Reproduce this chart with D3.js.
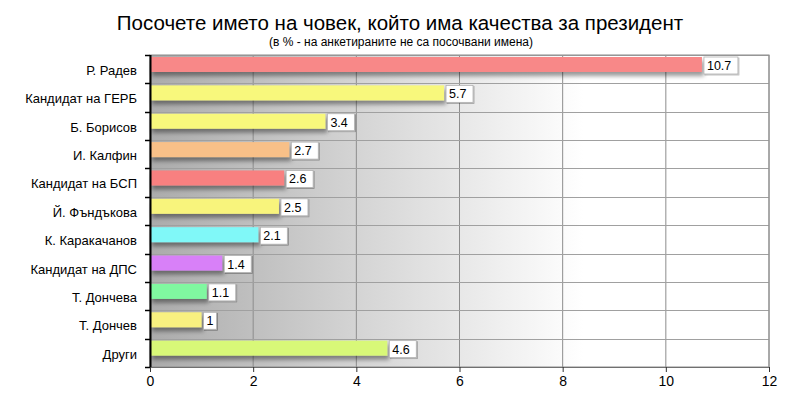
<!DOCTYPE html>
<html>
<head>
<meta charset="utf-8">
<script src="https://cdn.jsdelivr.net/npm/d3@7.9.0/dist/d3.min.js"></script>
<style>
  html, body { margin: 0; padding: 0; background: #fff; }
  svg { display: block; font-family: "Liberation Sans", Arial, sans-serif; }
</style>
</head>
<body>
<svg id="chart" width="800" height="400"></svg>
<script>
// values (percent)
var categories = ['Р. Радев', 'Кандидат на ГЕРБ', 'Б. Борисов', 'И. Калфин', 'Кандидат на БСП',
    'Й. Фъндъкова', 'К. Каракачанов', 'Кандидат на ДПС', 'Т. Дончева', 'Т. Дончев', 'Други']
var values = [10.7, 5.7, 3.4, 2.7, 2.6, 2.5, 2.1, 1.4, 1.1, 1, 4.6]
var xTicks = [0, 2, 4, 6, 8, 10, 12]

var BAR_COLORS = ['#f88888', '#f8f87c', '#f8f87c', '#f8c088', '#f88080', '#f8f47c',
    '#80f8f8', '#d880f8', '#80f8a0', '#f8f080', '#d8f878']

var W = 800, H = 400
var margin = { top: 55, right: 31, bottom: 33, left: 150 }
var iw = W - margin.left - margin.right
var ih = H - margin.top - margin.bottom

var svg = d3.select('#chart')
var defs = svg.append('defs')

var grad = defs.append('linearGradient').attr('id', 'bg').attr('x1', 0).attr('x2', 1).attr('y1', 0).attr('y2', 0)
grad.append('stop').attr('offset', '0%').attr('stop-color', '#ababab')
grad.append('stop').attr('offset', '35%').attr('stop-color', '#d6d6d6')
grad.append('stop').attr('offset', '70%').attr('stop-color', '#ffffff')
grad.append('stop').attr('offset', '100%').attr('stop-color', '#ffffff')

var shadow = defs.append('filter').attr('id', 'shadow').attr('x', '-5%').attr('y', '-50%').attr('width', '115%').attr('height', '250%')
shadow.append('feDropShadow').attr('dx', 2).attr('dy', 4).attr('stdDeviation', 2.2)
    .attr('flood-color', '#000').attr('flood-opacity', 0.4)

var boxShadow = defs.append('filter').attr('id', 'boxshadow').attr('x', '-20%').attr('y', '-20%').attr('width', '150%').attr('height', '160%')
boxShadow.append('feDropShadow').attr('dx', 1).attr('dy', 1).attr('stdDeviation', 0.6)
    .attr('flood-color', '#000').attr('flood-opacity', 0.3)

// title
svg.append('text').attr('x', 400).attr('y', 30).attr('text-anchor', 'middle')
    .attr('font-size', '20.5px').attr('fill', '#000')
    .text('Посочете името на човек, който има качества за президент')
svg.append('text').attr('x', 401).attr('y', 46).attr('text-anchor', 'middle')
    .attr('font-size', '12px').attr('fill', '#000')
    .text('(в % - на анкетираните не са посочвани имена)')

var x = d3.scaleLinear().domain([0, 12]).range([0, iw])
var y = d3.scaleBand().domain(categories).range([0, ih])

var g = svg.append('g').attr('transform', 'translate(' + margin.left + ',' + margin.top + ')')

g.append('rect').attr('width', iw).attr('height', ih).attr('fill', 'url(#bg)')

// grid
g.append('g').selectAll('line').data(xTicks.slice(1)).enter().append('line')
    .attr('x1', function (d) { return x(d) }).attr('x2', function (d) { return x(d) })
    .attr('y1', 0).attr('y2', ih)
    .attr('stroke', '#8c8c8c').attr('stroke-width', 1)
g.append('g').selectAll('line').data(categories).enter().append('line')
    .attr('x1', 0).attr('x2', iw)
    .attr('y1', function (d) { return Math.round(y(d)) + 0.5 })
    .attr('y2', function (d) { return Math.round(y(d)) + 0.5 })
    .attr('stroke', '#a0a0a0').attr('stroke-width', 1)
g.append('rect').attr('width', iw).attr('height', ih).attr('fill', 'none')
    .attr('stroke', '#8c8c8c').attr('stroke-width', 1)

// bars
var bh = 15
g.append('g').selectAll('rect').data(values).enter().append('rect')
    .attr('x', 0)
    .attr('y', function (d, i) { return y(categories[i]) + 2 })
    .attr('width', function (d) { return x(d) })
    .attr('height', bh)
    .attr('fill', function (d, i) { return BAR_COLORS[i] })
    .attr('filter', 'url(#shadow)')

// value labels
var lab = g.append('g').selectAll('g').data(values).enter().append('g')
    .attr('transform', function (d, i) {
        return 'translate(' + (x(d) + 2) + ',' + (y(categories[i]) + 2) + ')'
    })
lab.append('rect')
    .attr('width', function (d) { return String(d).length * 7 + 6 })
    .attr('height', 17)
    .attr('fill', '#fff').attr('stroke', '#b0b0b0').attr('stroke-width', 0.8)
    .attr('filter', 'url(#boxshadow)')
lab.append('text').attr('x', 3).attr('y', 13)
    .attr('font-size', '12.5px').attr('fill', '#000')
    .text(function (d) { return d })

// left axis
var yAxis = g.append('g').call(d3.axisLeft(y).tickSize(0).tickPadding(13))
yAxis.select('.domain').remove()
yAxis.selectAll('text').attr('font-size', '13px').attr('fill', '#000').attr('dy', '0.45em')
    .attr('font-family', '"Liberation Sans", Arial, sans-serif')
g.append('line').attr('x1', 0.5).attr('x2', 0.5).attr('y1', 0).attr('y2', ih)
    .attr('stroke', '#000').attr('stroke-width', 2)
g.append('g').selectAll('line').data(categories.concat(['_end'])).enter().append('line')
    .attr('x1', -5).attr('x2', 0)
    .attr('y1', function (d, i) { return Math.round(i * y.step()) + 0.5 })
    .attr('y2', function (d, i) { return Math.round(i * y.step()) + 0.5 })
    .attr('stroke', '#000').attr('stroke-width', 1.5)

// bottom axis
var xAxis = g.append('g').attr('transform', 'translate(0,' + ih + ')')
    .call(d3.axisBottom(x).tickValues(xTicks).tickSize(5).tickPadding(4).tickSizeOuter(0))
xAxis.select('.domain').attr('stroke', '#707070')
xAxis.selectAll('.tick line').attr('stroke', '#333')
xAxis.selectAll('text').attr('font-size', '14px').attr('fill', '#000')
    .attr('font-family', '"Liberation Sans", Arial, sans-serif')
</script>
</body>
</html>
